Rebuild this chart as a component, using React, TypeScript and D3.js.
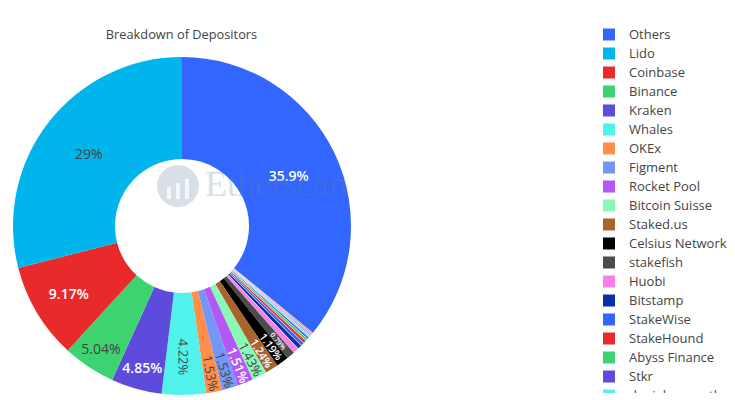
import React from "react";
import * as d3 from "d3";

const categories = ["Others", "Lido", "Coinbase", "Binance", "Kraken", "Whales", "OKEx", "Figment", "Rocket Pool", "Bitcoin Suisse", "Staked.us", "Celsius Network", "stakefish", "Huobi", "Bitstamp", "StakeWise", "StakeHound", "Abyss Finance", "Stkr", "danielwang.eth"];
const shares = [35.9, 29, 9.17, 5.04, 4.85, 4.22, 1.53, 1.53, 1.51, 1.43, 1.24, 1.19, 0.79, 0.55, 0.42, 0.33, 0.28, 0.24, 0.2, 0.17];
const palette = ["#3366fe", "#00b5eb", "#e92a2a", "#3dd370", "#5d4bdc", "#51f2ec", "#ff8e4a", "#7396f7", "#b357f5", "#8af9b5", "#a9642e", "#000000", "#4c4c4c", "#f781e8", "#0a2fa8", "#3366fe", "#e92a2a", "#3dd370", "#5d4bdc", "#51f2ec"];
// depositors past the point where the legend is cut off
const unlistedShares = [0.15, 0.12, 0.12];
const unlistedColors = ["#ff8e4a", "#7396f7", "#b357f5"];
const whiteLabels = ["Others", "Coinbase", "Kraken", "Rocket Pool", "Staked.us", "Celsius Network", "stakefish"];

const width = 735;
const height = 400;
const cx = 182;
const cy = 226;
const outer = 169;
const inner = 67;
const font = "'Open Sans', sans-serif";

interface Slice {
  name: string;
  value: number;
  color: string;
}

const slices: Slice[] = categories.map((name, i) => ({ name, value: shares[i], color: palette[i] }));
const unlisted: Slice[] = unlistedShares.map((value, i) => ({ name: "unlisted" + i, value, color: unlistedColors[i] }));

// Others runs clockwise from 12 o'clock, everything else is stacked back from the top
const drawOrder = [slices[0], ...unlisted, ...slices.slice(1).reverse()];
const pie = d3.pie<Slice>().sort(null).value(d => d.value);
const arc = d3.arc<d3.PieArcDatum<Slice>>().innerRadius(inner).outerRadius(outer);

const labelRadius = (v: number) => {
  if (v > 20) return 118;
  if (v > 6) return 132;
  if (v > 4.5) return 147;
  if (v > 4) return 131;
  return 150;
};

const App: React.FC = () => {
  const arcs = pie(drawOrder);
  return (
    <svg width={width} height={height} style={{ position: "absolute", left: 0, top: 0, background: "#fff" }}>
      <defs>
        <clipPath id="legend-clip">
          <rect x={590} y={20} width={145} height={373} />
        </clipPath>
      </defs>
      <text x={181.5} y={39} textAnchor="middle" fontFamily={font} fontSize={12.8} fill="#444">Breakdown of Depositors</text>
      <g transform={`translate(${cx},${cy})`}>
        {arcs.map(a => (
          <path key={a.data.name} d={arc(a) || ""} fill={a.data.color}
            stroke={a.data.value < 0.7 ? "#fff" : "none"} strokeWidth={a.data.value < 0.7 ? 0.6 : 0} strokeOpacity={0.8} />
        ))}
        {arcs.filter(a => a.data.value >= 0.7).map(a => {
          const v = a.data.value;
          const mid = (a.startAngle + a.endAngle) / 2;
          const r = labelRadius(v);
          const x = Math.sin(mid) * r;
          const y = -Math.cos(mid) * r;
          const rotated = v < 4.5;
          const rot = rotated ? (mid * 180) / Math.PI - 90 : 0;
          const white = whiteLabels.includes(a.data.name);
          return (
            <text key={a.data.name} transform={`translate(${x},${y}) rotate(${rot})`} textAnchor="middle" dominantBaseline="central"
              fontFamily={font} fontSize={rotated ? Math.min(13, v * 9) : 14} fontWeight={white ? 600 : 400} fill={white ? "#fff" : "#444"}>
              {v + "%"}
            </text>
          );
        })}
      </g>
      {/* watermark */}
      <g opacity={0.24} fill="#5f7f9e">
        <path d={d3.arc()({ innerRadius: 0, outerRadius: 21, startAngle: 0, endAngle: Math.PI * 2 }) || ""} transform="translate(178,186)" />
        <text x={205} y={196} fontFamily="'Liberation Serif', serif" fontSize={36}>Etherscan</text>
      </g>
      <g fill="#fff" opacity={0.75}>
        {d3.range(3).map(i => <rect key={i} x={167 + i * 9} y={187 - i * 4} width={4} height={12 + i * 4} />)}
      </g>
      <g clipPath="url(#legend-clip)">
        {slices.map((s, i) => (
          <g key={s.name} transform={`translate(603,${34.5 + i * 19})`}>
            <rect x={0} y={-6} width={12} height={12} fill={s.color} />
            <text x={26} y={-0.8} dominantBaseline="central" fontFamily={font} fontSize={13} fill="#444">{s.name}</text>
          </g>
        ))}
      </g>
    </svg>
  );
};

export default App;
